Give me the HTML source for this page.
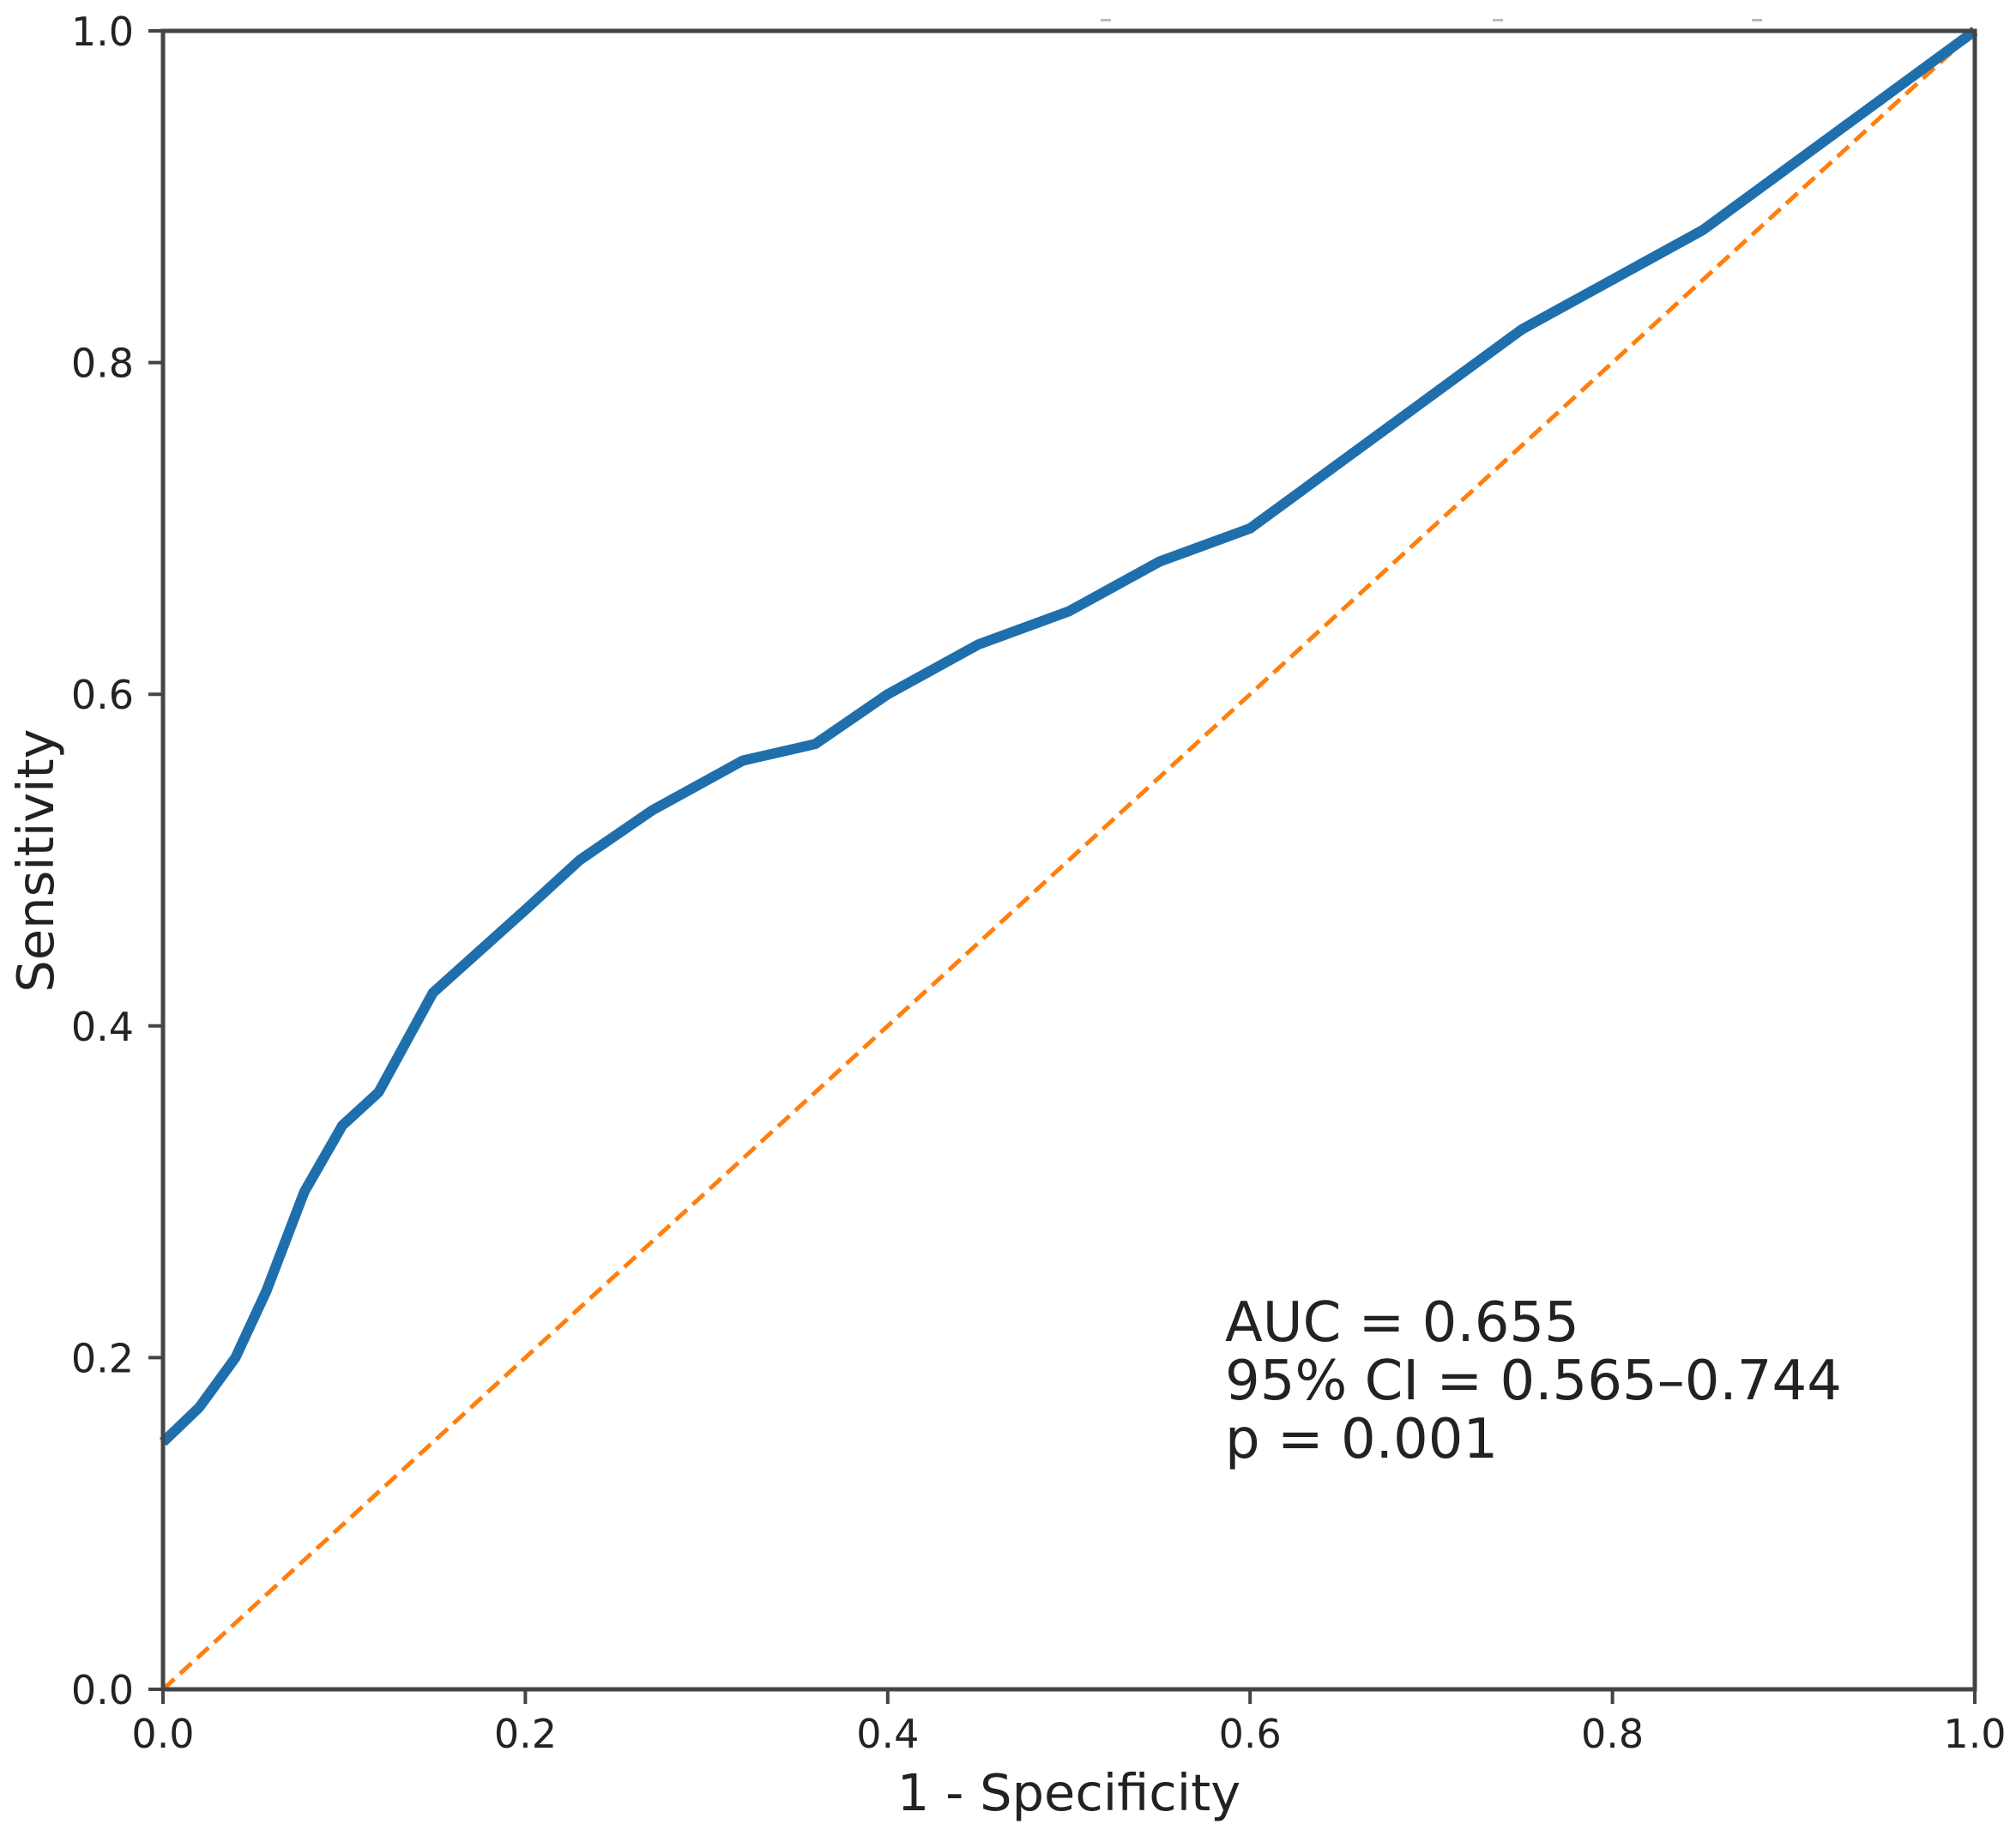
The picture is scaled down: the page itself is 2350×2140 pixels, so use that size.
<!DOCTYPE html>
<html><head><meta charset="utf-8"><style>
html,body{margin:0;padding:0;background:#fff;}
svg{display:block;font-family:"DejaVu Sans","Liberation Sans",sans-serif;}
</style></head><body>
<svg id="chart" width="2350" height="2140" viewBox="0 0 2350 2140" xmlns="http://www.w3.org/2000/svg">
<rect x="0" y="0" width="2350" height="2140" fill="#fff"/>
<g id="artifacts">
<rect x="1283" y="22" width="12" height="3" fill="#bbb"/>
<rect x="1740" y="22" width="12" height="3" fill="#bbb"/>
<rect x="2042" y="22" width="12" height="3" fill="#bbb"/>
</g>
<g id="ticks"></g>
<g id="series"></g>
<rect x="190" y="36" width="2112" height="1933" fill="none" stroke="#444" stroke-width="5"/>
<text x="1246" y="2110" font-size="59" text-anchor="middle" fill="#222">1 - Specificity</text>
<text x="0" y="0" font-size="59" text-anchor="middle" fill="#222" transform="translate(62,1003) rotate(-90)">Sensitivity</text>
<g>
<text x="1428" y="1563" font-size="64" fill="#222">AUC = 0.655</text>
<text x="1428" y="1631" font-size="64" fill="#222">95% CI = 0.565–0.744</text>
<text x="1428" y="1699" font-size="64" fill="#222">p = 0.001</text>
</g>
</svg>
<script>
const fprValues = [0,0.02,0.04,0.057,0.078,0.099,0.119,0.149,0.2,0.23,0.27,0.32,0.36,0.40,0.45,0.50,0.55,0.60,0.65,0.70,0.75,0.80,0.85,0.90,1.0];
const tprValues = [0.149,0.17,0.20,0.24,0.30,0.34,0.36,0.42,0.47,0.50,0.53,0.56,0.57,0.60,0.63,0.65,0.68,0.70,0.74,0.78,0.82,0.85,0.88,0.92,1.0];
const refX = [0,1];
const refY = [0,1];
const xTicks = [0,0.2,0.4,0.6,0.8,1.0];
const yTicks = [0,0.2,0.4,0.6,0.8,1.0];
const xTickLabels = ["0.0","0.2","0.4","0.6","0.8","1.0"];
const yTickLabels = ["0.0","0.2","0.4","0.6","0.8","1.0"];

const L=190,R=2302,T=36,B=1969;
function sx(v){return L+(R-L)*v;}
function sy(v){return B-(B-T)*v;}
const NS="http://www.w3.org/2000/svg";
const ticks=document.getElementById('ticks');
const series=document.getElementById('series');

xTicks.forEach((v,i)=>{
  const l=document.createElementNS(NS,'line');
  l.setAttribute('x1',sx(v));l.setAttribute('x2',sx(v));l.setAttribute('y1',B);l.setAttribute('y2',B+17);
  l.setAttribute('stroke','#444');l.setAttribute('stroke-width','4');
  
  
  ticks.appendChild(l);
  const t=document.createElementNS(NS,'text');
  t.setAttribute('x',sx(v));t.setAttribute('y',2037);t.setAttribute('font-size','46');
  t.setAttribute('text-anchor','middle');t.setAttribute('fill','#222');
  t.textContent=xTickLabels[i];
  
  
  ticks.appendChild(t);
});
yTicks.forEach((v,i)=>{
  const l=document.createElementNS(NS,'line');
  l.setAttribute('x1',L-17);l.setAttribute('x2',L);l.setAttribute('y1',sy(v));l.setAttribute('y2',sy(v));
  l.setAttribute('stroke','#444');l.setAttribute('stroke-width','4');
  
  
  ticks.appendChild(l);
  const t=document.createElementNS(NS,'text');
  t.setAttribute('x',156);t.setAttribute('y',sy(v)+17);t.setAttribute('font-size','46');
  t.setAttribute('text-anchor','end');t.setAttribute('fill','#222');
  t.textContent=yTickLabels[i];
  
  
  ticks.appendChild(t);
});

const ref=document.createElementNS(NS,'polyline');
ref.setAttribute('points',refX.map((v,i)=>sx(v)+','+sy(refY[i])).join(' '));
ref.setAttribute('fill','none');ref.setAttribute('stroke','#ff7f0e');ref.setAttribute('stroke-width','5');
ref.setAttribute('stroke-dasharray','18 9');


series.appendChild(ref);

const roc=document.createElementNS(NS,'polyline');
roc.setAttribute('points',fprValues.map((v,i)=>sx(v)+','+sy(tprValues[i])).join(' '));
roc.setAttribute('fill','none');roc.setAttribute('stroke','#1f6fad');roc.setAttribute('stroke-width','12');
roc.setAttribute('stroke-linejoin','round');


series.appendChild(roc);
</script>
</body></html>
